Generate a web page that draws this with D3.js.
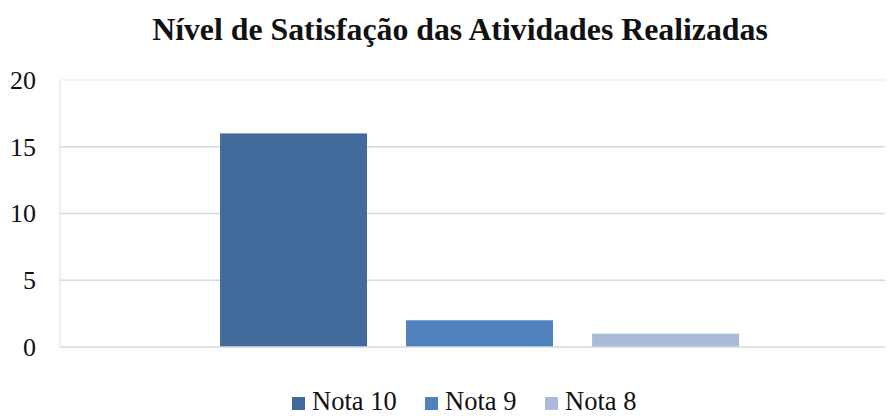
<!DOCTYPE html>
<html>
<head>
<meta charset="utf-8">
<script src="https://cdn.jsdelivr.net/npm/d3@7"></script>
</head>
<body style="margin: 0; background: #fff">
<div id="container"></div>
<script>
const title = 'Nível de Satisfação das Atividades Realizadas';
const categories = [''];
const seriesNames = ['Nota 10', 'Nota 9', 'Nota 8'];
const seriesValues = [16, 2, 1];
const seriesColors = ['#406b9c', '#4f81bd', '#aabad8'];
const yTicks = [0, 5, 10, 15, 20];

const fontFamily = 'Liberation Serif';
const svgWidth = 887;
const svgHeight = 416;
const plotLeft = 60;
const plotRight = 885;
const plotTop = 80;
const plotBottom = 347;

const svg = d3
  .select('#container')
  .append('svg')
  .attr('width', svgWidth)
  .attr('height', svgHeight)
  .attr('font-family', fontFamily);

// Title
svg
  .append('text')
  .attr('x', 460)
  .attr('y', 40)
  .attr('text-anchor', 'middle')
  .attr('font-family', fontFamily)
  .attr('font-size', 31.8)
  .attr('font-weight', 'bold')
  .attr('fill', '#111')
  .text(title);

// Scales
const yScale = d3.scaleLinear().domain([0, 20]).range([plotBottom, plotTop]);

const x0 = d3
  .scaleBand()
  .domain(categories)
  .range([plotLeft, plotRight])
  .paddingInner(0)
  .paddingOuter(0.2948)
  .align(0.523);

const x1 = d3
  .scaleBand()
  .domain(seriesNames)
  .range([0, x0.bandwidth()])
  .paddingInner(0.21)
  .paddingOuter(0);

// Gridlines
svg
  .selectAll('.grid')
  .data(yTicks.filter(t => t > 0 && t < 20))
  .enter()
  .append('line')
  .attr('x1', plotLeft)
  .attr('x2', plotRight)
  .attr('y1', d => yScale(d))
  .attr('y2', d => yScale(d))
  .attr('stroke', '#d9d9d9')
  .attr('stroke-width', 1.3);

// faint plot border (top and left)
svg
  .append('line')
  .attr('x1', plotLeft)
  .attr('x2', plotRight)
  .attr('y1', yScale(20))
  .attr('y2', yScale(20))
  .attr('stroke', '#edf2f8')
  .attr('stroke-width', 1.3);

svg
  .append('line')
  .attr('x1', plotLeft)
  .attr('x2', plotLeft)
  .attr('y1', yScale(20))
  .attr('y2', yScale(0))
  .attr('stroke', '#dde7f2')
  .attr('stroke-width', 1.3);

// Y axis labels
const yAxis = d3.axisLeft(yScale).tickValues(yTicks).tickSize(0).tickPadding(24);

const yAxisG = svg
  .append('g')
  .attr('transform', `translate(${plotLeft}, 0)`)
  .call(yAxis)
  .attr('font-family', fontFamily)
  .attr('font-size', 26);

yAxisG.select('.domain').remove();
yAxisG.selectAll('text').attr('fill', '#111');

// Bars
svg
  .selectAll('.bar')
  .data(seriesNames.map((name, i) => ({ name, value: seriesValues[i], color: seriesColors[i] })))
  .enter()
  .append('rect')
  .attr('class', 'bar')
  .attr('x', d => x0(categories[0]) + x1(d.name))
  .attr('y', d => yScale(d.value))
  .attr('width', x1.bandwidth())
  .attr('height', d => yScale(0) - yScale(d.value))
  .attr('fill', d => d.color);

// Baseline
svg
  .append('line')
  .attr('x1', plotLeft)
  .attr('x2', plotRight)
  .attr('y1', yScale(0))
  .attr('y2', yScale(0))
  .attr('stroke', '#d9d9d9')
  .attr('stroke-width', 1.6);

// Legend
const legendX = [292, 425, 545];
const legend = svg
  .selectAll('.legend')
  .data(seriesNames)
  .enter()
  .append('g')
  .attr('transform', (d, i) => `translate(${legendX[i]}, 397)`);

legend
  .append('rect')
  .attr('width', 13)
  .attr('height', 13)
  .attr('fill', (d, i) => seriesColors[i]);

legend
  .append('text')
  .attr('x', 20)
  .attr('y', 13)
  .attr('font-family', fontFamily)
  .attr('font-size', 26.5)
  .attr('fill', '#111')
  .text(d => d);
</script>
</body>
</html>
